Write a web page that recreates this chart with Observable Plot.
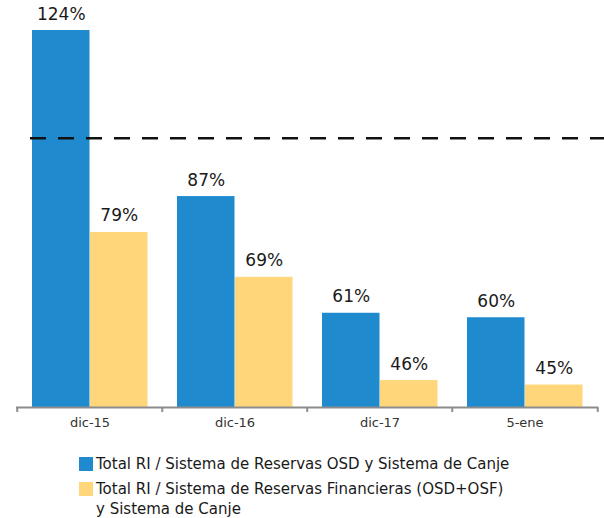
<!DOCTYPE html>
<html>
<head>
<meta charset="utf-8">
<script src="https://cdn.jsdelivr.net/npm/d3@7"></script>
<script src="https://cdn.jsdelivr.net/npm/@observablehq/plot@0.6"></script>
<style>
  body { margin: 0; background: #fff; font-family: "DejaVu Sans", sans-serif; }
  #legend { margin-left: 79px; margin-top: 14px; font-size: 15px; color: #1a1a1a; line-height: 20px; }
  .item { display: flex; align-items: flex-start; margin-bottom: 5px; }
  .sw { width: 14px; height: 14px; margin-top: 3px; margin-right: 3px; flex: none; }
</style>
</head>
<body>
<div id="chart"></div>
<div id="legend"></div>
<script>
const categories = ["dic-15", "dic-16", "dic-17", "5-ene"];
const seriesOSD = [124, 87, 61, 60];
const seriesFin = [79, 69, 46, 45];
const seriesNames = [
  "Total RI / Sistema de Reservas OSD y Sistema de Canje",
  "Total RI / Sistema de Reservas Financieras (OSD+OSF)<br>y Sistema de Canje"
];
const reference = [100];
const colors = ["#1f8bce", "#ffd67a"];
const baseValue = 40;

const dOSD = categories.map((c, i) => ({cat: c, value: seriesOSD[i]}));
const dFin = categories.map((c, i) => ({cat: c, value: seriesFin[i]}));
const step = 582 / categories.length;

const chart = Plot.plot({
  width: 604,
  height: 440,
  marginLeft: 16,
  marginRight: 0,
  marginTop: 30,
  marginBottom: 33,
  style: {fontFamily: "DejaVu Sans, sans-serif", fontSize: "13px", background: "#fff", color: "#333"},
  x: {domain: categories, range: [16, 598], padding: 0, label: null, tickSize: 0, tickPadding: 10},
  y: {domain: [baseValue, 124], axis: null},
  marks: [
    Plot.barY(dOSD, {x: "cat", y1: baseValue, y2: "value", fill: colors[0], insetLeft: 15, insetRight: 72.5}),
    Plot.barY(dFin, {x: "cat", y1: baseValue, y2: "value", fill: colors[1], insetLeft: 73, insetRight: 14.5}),
    Plot.ruleY([baseValue], {stroke: "#8c8c8c", strokeWidth: 2, insetRight: 6}),
    Plot.ruleX(categories, {x: d => d, dx: -step / 2, y1: baseValue - 1.1, y2: baseValue, stroke: "#8c8c8c", strokeWidth: 2}),
    Plot.ruleX(categories.slice(-1), {x: d => d, dx: step / 2, y1: baseValue - 1.1, y2: baseValue, stroke: "#8c8c8c", strokeWidth: 2}),
    Plot.ruleY(reference, {stroke: "#111", strokeWidth: 2.5, strokeDasharray: "16,12", insetLeft: 14}),
    Plot.text(dOSD, {x: "cat", y: "value", text: d => d.value + "%", dx: -28.75, dy: -11, lineAnchor: "bottom", fontSize: 17, fill: "#1a1a1a"}),
    Plot.text(dFin, {x: "cat", y: "value", text: d => d.value + "%", dx: 29.25, dy: -11, lineAnchor: "bottom", fontSize: 17, fill: "#1a1a1a"})
  ]
});
document.getElementById("chart").appendChild(chart);

const legend = document.getElementById("legend");
seriesNames.forEach((name, i) => {
  const item = document.createElement("div");
  item.className = "item";
  item.innerHTML = `<span class="sw" style="background:${colors[i]}"></span><span>${name}</span>`;
  legend.appendChild(item);
});
</script>
</body>
</html>
